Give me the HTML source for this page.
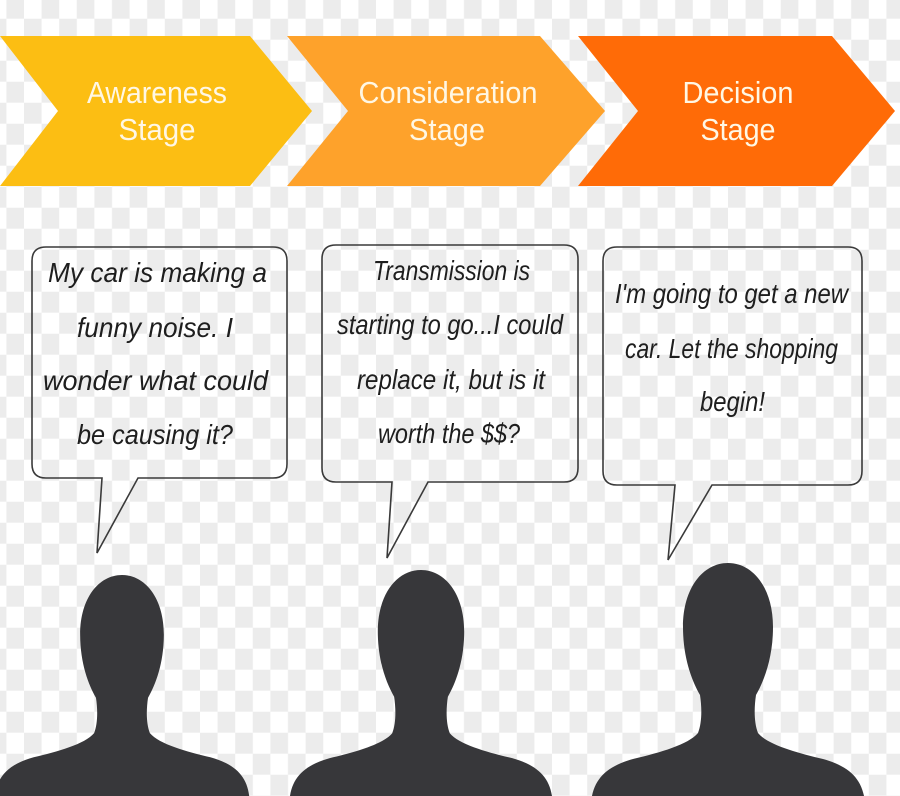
<!DOCTYPE html>
<html>
<head>
<meta charset="utf-8">
<style>
  html, body { margin: 0; padding: 0; background: #ffffff; }
  body { width: 900px; height: 796px; overflow: hidden; }
  svg { display: block; }
</style>
</head>
<body>
<svg width="900" height="796" viewBox="0 0 900 796" xmlns="http://www.w3.org/2000/svg">
  <defs>
    <pattern id="chk" patternUnits="userSpaceOnUse" x="24" y="18.7" width="35.2" height="42">
      <rect x="0" y="0" width="35.2" height="42" fill="#ffffff"/>
      <rect x="0" y="0" width="17.6" height="21" fill="#ececec"/>
      <rect x="17.6" y="21" width="17.6" height="21" fill="#ececec"/>
    </pattern>
    <path id="person" d="M 0 0 C 25 0 45 25 45 64 C 45 95 36 118 28 132 C 26 145 26 160 30 170 C 40 182 70 190 95 196 C 120 203 135 215 137 240 L -137 240 C -135 215 -120 203 -95 196 C -70 190 -40 182 -30 170 C -26 160 -26 145 -28 132 C -36 118 -45 95 -45 64 C -45 25 -25 0 0 0 Z"/>
  </defs>

  <!-- checker background -->
  <rect x="0" y="0" width="900" height="796" fill="url(#chk)"/>

  <!-- chevrons -->
  <polygon points="0,36 250,36 312,111 250,186 0,186 58,111" fill="#FCBE13"/>
  <polygon points="287,36 540,36 605,111 540,186 287,186 348,111" fill="#FEA22B"/>
  <polygon points="578,36 832,36 895,111 832,186 578,186 638,111" fill="#FF6B07"/>

  <g font-family="'Liberation Sans', sans-serif" font-size="31" fill="#FFF7E4" text-anchor="middle">
    <text x="157" y="103" textLength="140" lengthAdjust="spacingAndGlyphs">Awareness</text>
    <text x="157" y="140" textLength="77" lengthAdjust="spacingAndGlyphs">Stage</text>
    <text x="448" y="103" textLength="179" lengthAdjust="spacingAndGlyphs">Consideration</text>
    <text x="447" y="140" textLength="76" lengthAdjust="spacingAndGlyphs">Stage</text>
    <text x="738" y="103" textLength="111" lengthAdjust="spacingAndGlyphs">Decision</text>
    <text x="738" y="140" textLength="75" lengthAdjust="spacingAndGlyphs">Stage</text>
  </g>

  <!-- speech bubbles -->
  <g fill="none" stroke="#3a3a3a" stroke-width="1.6" stroke-linejoin="miter">
    <path d="M 46 247 H 273 Q 287 247 287 261 V 464 Q 287 478 273 478 H 138 L 97 553 L 102 478 H 46 Q 32 478 32 464 V 261 Q 32 247 46 247 Z"/>
    <path d="M 336 245 H 564 Q 578 245 578 259 V 468 Q 578 482 564 482 H 428 L 387 558 L 392 482 H 336 Q 322 482 322 468 V 259 Q 322 245 336 245 Z"/>
    <path d="M 617 247 H 848 Q 862 247 862 261 V 471 Q 862 485 848 485 H 712 L 668 560 L 675 485 H 617 Q 603 485 603 471 V 261 Q 603 247 617 247 Z"/>
  </g>

  <g font-family="'Liberation Sans', sans-serif" font-style="italic" font-size="28" fill="#1e1e1e" text-anchor="middle">
    <text x="157.5" y="282" textLength="219" lengthAdjust="spacingAndGlyphs">My car is making a</text>
    <text x="155" y="337" textLength="156" lengthAdjust="spacingAndGlyphs">funny noise. I</text>
    <text x="155.5" y="390" textLength="225" lengthAdjust="spacingAndGlyphs">wonder what could</text>
    <text x="155" y="444" textLength="156" lengthAdjust="spacingAndGlyphs">be causing it?</text>

    <text x="451.5" y="280" textLength="157" lengthAdjust="spacingAndGlyphs">Transmission is</text>
    <text x="450" y="334" textLength="226" lengthAdjust="spacingAndGlyphs">starting to go...I could</text>
    <text x="451" y="389" textLength="188" lengthAdjust="spacingAndGlyphs">replace it, but is it</text>
    <text x="449" y="443" textLength="142" lengthAdjust="spacingAndGlyphs">worth the $$?</text>

    <text x="731.5" y="303" textLength="233" lengthAdjust="spacingAndGlyphs">I'm going to get a new</text>
    <text x="731.5" y="358" textLength="213" lengthAdjust="spacingAndGlyphs">car. Let the shopping</text>
    <text x="732.5" y="411" textLength="65" lengthAdjust="spacingAndGlyphs">begin!</text>
  </g>

  <!-- silhouettes -->
  <g fill="#37373a">
    <use href="#person" transform="translate(122,575) scale(0.93)"/>
    <use href="#person" transform="translate(421,570) scale(0.96)"/>
    <use href="#person" transform="translate(728,563) scale(1)"/>
  </g>
</svg>
</body>
</html>
